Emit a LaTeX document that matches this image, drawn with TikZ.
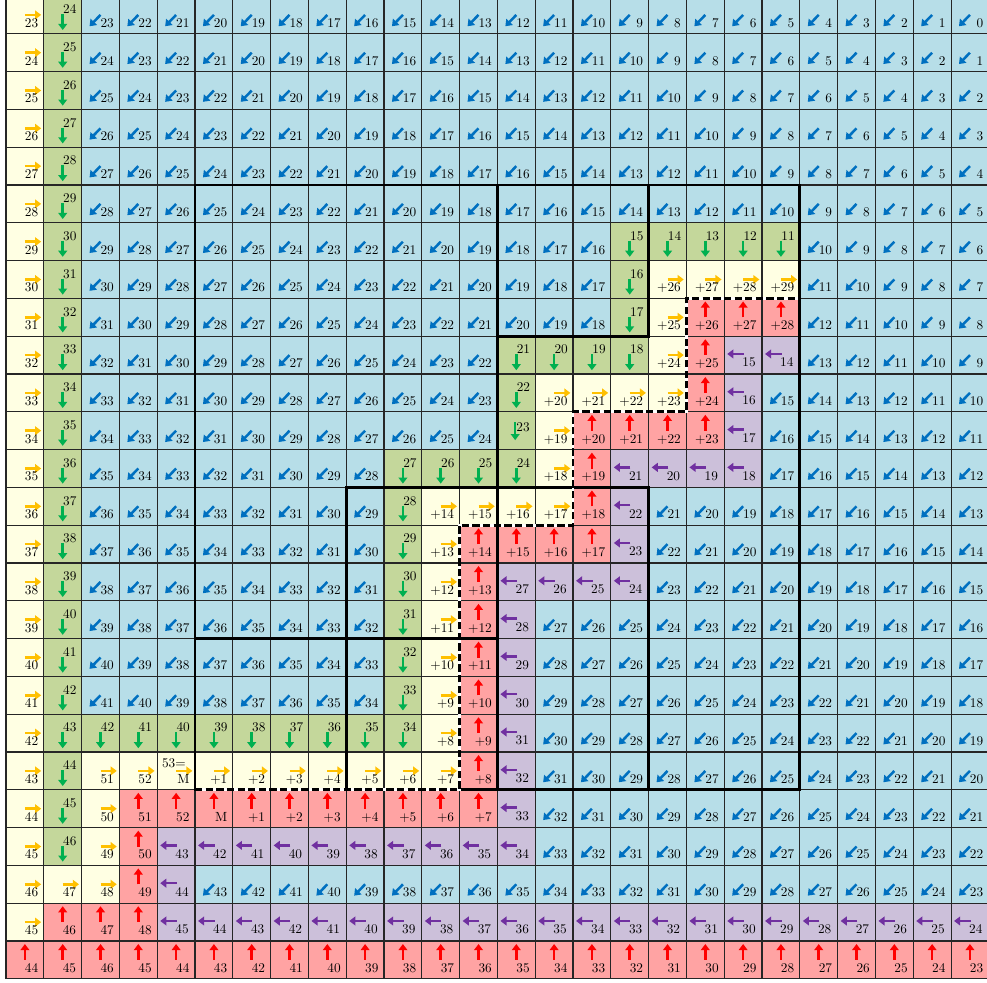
\documentclass[tikz,border=0pt]{standalone}
\usetikzlibrary{arrows.meta}
\definecolor{bfill}{HTML}{B7DEE8}
\definecolor{yfill}{HTML}{FFFFE3}
\definecolor{gfill}{HTML}{C4D79B}
\definecolor{rfill}{HTML}{FFA3A3}
\definecolor{pfill}{HTML}{CCC0DA}
\definecolor{barr}{HTML}{0070C0}
\definecolor{yarr}{HTML}{FFC000}
\definecolor{garr}{HTML}{00B050}
\definecolor{rarr}{HTML}{FF0000}
\definecolor{parr}{HTML}{7030A0}
\tikzset{
  arr/.style={line width=1.9pt,-{Triangle[length=4.6pt,width=6.6pt]}},
  num/.style={anchor=base east,inner sep=0pt,font=\normalsize},
  gridline/.style={line width=0.8pt,black!85},
  boxline/.style={line width=2.2pt,black,line cap=rect},
  pathunder/.style={line width=2pt,white},
  pathline/.style={line width=2pt,black,dash pattern=on 5.5pt off 2.5pt},
}
\newcommand\Bcell[2]{\pgfmathtruncatemacro\blbl{#2+25-#1}%
  \fill[bfill] (#1,-#2) rectangle ++(1,-1);
  \draw[arr,barr] (#1+0.5,-#2-0.5) -- ++(-0.29,-0.3);
  \node[num] (b#1-#2) at (#1+0.86,-#2-0.83) {\blbl};}
\newcommand\Brow[3]{\foreach \c in {#2,...,#3} {\Bcell{\c}{#1}}}
\newcommand\Ycell[3]{%
  \fill[yfill] (#1,-#2) rectangle ++(1,-1);
  \draw[arr,yarr] (#1+0.5,-#2-0.5) -- ++(0.43,0);
  \node[num] (y#1-#2) at (#1+0.86,-#2-0.83) {#3};}
\newcommand\Gcell[3]{%
  \fill[gfill] (#1,-#2) rectangle ++(1,-1);
  \draw[arr,garr] (#1+0.5,-#2-0.48) -- ++(0,-0.42);
  \node[num] (g#1-#2) at (#1+0.87,-#2-0.47) {#3};}
\newcommand\Rcell[3]{%
  \fill[rfill] (#1,-#2) rectangle ++(1,-1);
  \draw[arr,rarr] (#1+0.5,-#2-0.5) -- ++(0,0.42);
  \node[num] (r#1-#2) at (#1+0.86,-#2-0.83) {#3};}
\newcommand\Pcell[3]{%
  \fill[pfill] (#1,-#2) rectangle ++(1,-1);
  \draw[arr,parr] (#1+0.52,-#2-0.47) -- ++(-0.44,0);
  \node[num] (p#1-#2) at (#1+0.84,-#2-0.81) {#3};}
\begin{document}
\begin{tikzpicture}
\useasboundingbox (-0.159,-26.106) rectangle (25.952,-0.106);
\clip (-0.159,-26.106) rectangle (25.952,-0.106);
\fill[white] (-0.159,-26.106) rectangle (25.952,-0.106);
% ---------- blue cells
\foreach \r in {0,...,5} {\Brow{\r}{2}{25}}
\foreach \r in {6,7,8} {\Brow{\r}{2}{15}\Brow{\r}{21}{25}}
\Brow{9}{2}{12}\Brow{9}{21}{25}
\foreach \r in {10,11} {\Brow{\r}{2}{12}\Brow{\r}{20}{25}}
\Brow{12}{2}{9}\Brow{12}{20}{25}
\foreach \r in {13,14,15} {\Brow{\r}{2}{9}\Brow{\r}{17}{25}}
\foreach \r in {16,17,18} {\Brow{\r}{2}{9}\Brow{\r}{14}{25}}
\foreach \r in {19,...,22} {\Brow{\r}{14}{25}}
\Brow{23}{5}{25}
% ---------- green cells
\foreach \r in {0,...,22} {\pgfmathtruncatemacro\lbl{24+\r}\Gcell{1}{\r}{\lbl}}
\foreach \c in {16,...,20} {\pgfmathtruncatemacro\lbl{31-\c}\Gcell{\c}{6}{\lbl}}
\Gcell{16}{7}{16}\Gcell{16}{8}{17}
\foreach \c in {13,...,16} {\pgfmathtruncatemacro\lbl{34-\c}\Gcell{\c}{9}{\lbl}}
\Gcell{13}{10}{22}
\fill[gfill] (13,-11) rectangle ++(1,-1);
\draw[arr,garr] (13.47,-11.27) -- ++(0,-0.48);
\node[num] (g13-11) at (13.86,-11.51) {23};
\foreach \c in {10,...,13} {\pgfmathtruncatemacro\lbl{37-\c}\Gcell{\c}{12}{\lbl}}
\foreach \r in {13,...,18} {\pgfmathtruncatemacro\lbl{\r+15}\Gcell{10}{\r}{\lbl}}
\foreach \c in {2,...,10} {\pgfmathtruncatemacro\lbl{44-\c}\Gcell{\c}{19}{\lbl}}
% ---------- yellow cells
\foreach \r in {0,...,23} {\pgfmathtruncatemacro\lbl{23+\r}\Ycell{0}{\r}{\lbl}}
\Ycell{0}{24}{45}
\Ycell{1}{23}{47}\Ycell{2}{23}{48}
\Ycell{2}{20}{51}\Ycell{2}{21}{50}\Ycell{2}{22}{49}
\Ycell{3}{20}{52}
\fill[yfill] (4,-20) rectangle ++(1,-1);
\draw[arr,yarr] (4.5,-20.5) -- ++(0.43,0);
\node[num] (y53) at (4.76,-20.42) {53=};
\node[num] (yM) at (4.86,-20.83) {M};
\foreach \c in {5,...,11} {\pgfmathtruncatemacro\lbl{\c-4}\Ycell{\c}{20}{+\lbl}}
\foreach \r in {13,...,19} {\pgfmathtruncatemacro\lbl{27-\r}\Ycell{11}{\r}{+\lbl}}
\foreach \c in {12,13,14} {\pgfmathtruncatemacro\lbl{\c+3}\Ycell{\c}{13}{+\lbl}}
\foreach \r in {10,11,12} {\pgfmathtruncatemacro\lbl{30-\r}\Ycell{14}{\r}{+\lbl}}
\foreach \c in {15,16,17} {\pgfmathtruncatemacro\lbl{\c+6}\Ycell{\c}{10}{+\lbl}}
\foreach \r in {7,8,9} {\pgfmathtruncatemacro\lbl{33-\r}\Ycell{17}{\r}{+\lbl}}
\foreach \c in {18,19,20} {\pgfmathtruncatemacro\lbl{\c+9}\Ycell{\c}{7}{+\lbl}}
% ---------- red cells
\foreach \c in {0,1,2} {\pgfmathtruncatemacro\lbl{44+\c}\Rcell{\c}{25}{\lbl}}
\foreach \c in {3,...,25} {\pgfmathtruncatemacro\lbl{48-\c}\Rcell{\c}{25}{\lbl}}
\foreach \c in {1,2,3} {\pgfmathtruncatemacro\lbl{45+\c}\Rcell{\c}{24}{\lbl}}
\foreach \r in {21,22,23} {\pgfmathtruncatemacro\lbl{72-\r}\Rcell{3}{\r}{\lbl}}
\Rcell{4}{21}{52}\Rcell{5}{21}{M}
\foreach \c in {6,...,11} {\pgfmathtruncatemacro\lbl{\c-5}\Rcell{\c}{21}{+\lbl}}
\foreach \r in {14,...,21} {\pgfmathtruncatemacro\lbl{28-\r}\Rcell{12}{\r}{+\lbl}}
\foreach \c in {13,14,15} {\pgfmathtruncatemacro\lbl{\c+2}\Rcell{\c}{14}{+\lbl}}
\foreach \r in {11,12,13} {\pgfmathtruncatemacro\lbl{31-\r}\Rcell{15}{\r}{+\lbl}}
\foreach \c in {16,17,18} {\pgfmathtruncatemacro\lbl{\c+5}\Rcell{\c}{11}{+\lbl}}
\foreach \r in {8,9,10} {\pgfmathtruncatemacro\lbl{34-\r}\Rcell{18}{\r}{+\lbl}}
\foreach \c in {19,20} {\pgfmathtruncatemacro\lbl{\c+8}\Rcell{\c}{8}{+\lbl}}
% ---------- purple cells
\foreach \c in {4,...,25} {\pgfmathtruncatemacro\lbl{49-\c}\Pcell{\c}{24}{\lbl}}
\Pcell{4}{23}{44}
\foreach \c in {4,...,13} {\pgfmathtruncatemacro\lbl{47-\c}\Pcell{\c}{22}{\lbl}}
\foreach \r in {15,...,21} {\pgfmathtruncatemacro\lbl{\r+12}\Pcell{13}{\r}{\lbl}}
\foreach \c in {14,15,16} {\pgfmathtruncatemacro\lbl{40-\c}\Pcell{\c}{15}{\lbl}}
\foreach \r in {12,13,14} {\pgfmathtruncatemacro\lbl{\r+9}\Pcell{16}{\r}{\lbl}}
\foreach \c in {17,18,19} {\pgfmathtruncatemacro\lbl{37-\c}\Pcell{\c}{12}{\lbl}}
\foreach \r in {9,10,11} {\pgfmathtruncatemacro\lbl{\r+6}\Pcell{19}{\r}{\lbl}}
\Pcell{20}{9}{14}
% ---------- grid
\draw[gridline] (0,0) grid (26,-26);
% ---------- thick boxes
\draw[boxline] (5,-5) rectangle (21,-21);
\draw[boxline] (17,-5) -- (17,-9) -- (13,-9);
\draw[boxline] (13,-5) -- (13,-21);
\draw[boxline] (9,-13) -- (17,-13);
\draw[boxline] (9,-13) -- (9,-21);
\draw[boxline] (5,-17) -- (13,-17);
\draw[boxline] (17,-13) -- (17,-21);
% ---------- dashed separation path
\coordinate (d0) at (5,-21);
\coordinate (d1) at (12,-21);
\coordinate (d2) at (12,-14);
\coordinate (d3) at (15,-14);
\coordinate (d4) at (15,-11);
\coordinate (d5) at (18,-11);
\coordinate (d6) at (18,-8);
\coordinate (d7) at (21,-8);
\draw[pathunder] (d0) -- (d1) -- (d2) -- (d3) -- (d4) -- (d5) -- (d6) -- (d7);
\draw[pathline] (d0) -- (d1) -- (d2) -- (d3) -- (d4) -- (d5) -- (d6) -- (d7);
\end{tikzpicture}
\end{document}
